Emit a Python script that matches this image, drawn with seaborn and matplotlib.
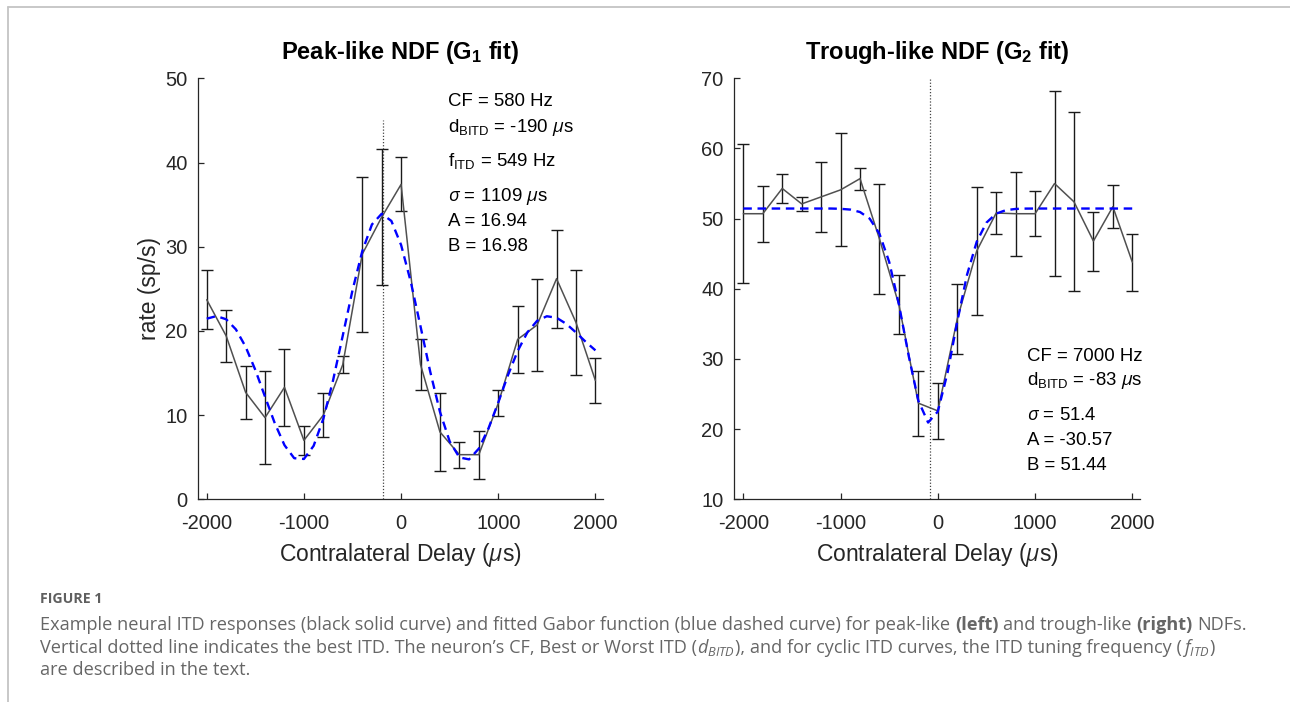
import matplotlib
matplotlib.use("Agg")
import matplotlib.pyplot as plt
import seaborn as sns
import pandas as pd
from matplotlib.lines import Line2D

# ---------------- data ----------------
delays = [-2000, -1800, -1600, -1400, -1200, -1000, -800, -600, -400, -200, 0,
          200, 400, 600, 800, 1000, 1200, 1400, 1600, 1800, 2000]

peak_rate = [23.7, 19.4, 12.7, 9.7, 13.3, 7.0, 10.0, 16.0, 29.1, 33.5, 37.4,
             16.0, 8.0, 5.3, 5.3, 11.4, 19.0, 20.7, 26.2, 21.0, 14.1]
peak_sem = [3.5, 3.1, 3.15, 5.55, 4.55, 1.7, 2.6, 1.05, 9.2, 8.05, 3.2,
            3.05, 4.6, 1.55, 2.85, 1.55, 4.0, 5.5, 5.8, 6.2, 2.7]

trough_rate = [50.7, 50.7, 54.3, 52.1, 53.1, 54.1, 55.7, 47.1, 37.7, 23.7, 22.6,
               35.7, 45.4, 50.8, 50.7, 50.7, 55.0, 52.4, 46.8, 51.7, 43.8]
trough_sem = [9.9, 4.0, 2.1, 1.0, 4.95, 8.05, 1.55, 7.85, 4.2, 4.65, 4.0,
              4.95, 9.1, 2.95, 6.0, 3.2, 13.15, 12.75, 4.2, 3.1, 4.05]

fit_delays = [-2000, -1900, -1800, -1700, -1600, -1500, -1400, -1300, -1200, -1100,
              -1000, -900, -800, -700, -600, -500, -400, -300, -200, -100, 0,
              100, 200, 300, 400, 500, 600, 700, 800, 900, 1000,
              1100, 1200, 1300, 1400, 1500, 1600, 1700, 1800, 1900, 2000]
peak_fit = [21.45, 21.76, 21.38, 20.18, 18.12, 15.36, 12.18, 9.04, 6.43, 4.88,
            4.79, 6.35, 9.57, 14.13, 19.45, 24.82, 29.44, 32.64, 33.91, 33.06, 30.21,
            25.82, 20.54, 15.15, 10.39, 6.88, 4.97, 4.74, 6.02, 8.44, 11.50,
            14.74, 17.62, 19.83, 21.20, 21.74, 21.56, 20.84, 19.81, 18.70, 17.69]
trough_fit = [51.44, 51.44, 51.44, 51.44, 51.44, 51.44, 51.44, 51.44, 51.44, 51.44,
              51.40, 51.29, 50.94, 49.99, 47.84, 43.83, 37.76, 30.47, 24.04, 20.94, 22.51,
              28.05, 35.33, 41.98, 46.71, 49.43, 50.71, 51.21, 51.38, 51.43, 51.44,
              51.44, 51.44, 51.44, 51.44, 51.44, 51.44, 51.44, 51.44, 51.44, 51.44]

peak_best_itd = -190
trough_best_itd = -83
peak_dotted_top = 45
trough_dotted_top = 70

peak_title = r"Peak-like NDF (G$_\mathbf{1}$ fit)"
trough_title = r"Trough-like NDF (G$_\mathbf{2}$ fit)"
peak_params = ["CF = 580 Hz", r"d$_{\mathrm{BITD}}$ = -190 $\mu$s",
               r"f$_{\mathrm{ITD}}$ = 549 Hz", r"$\sigma$ = 1109 $\mu$s",
               "A = 16.94", "B = 16.98"]
trough_params = ["CF = 7000 Hz", r"d$_{\mathrm{BITD}}$ = -83 $\mu$s",
                 r"$\sigma$ = 51.4", "A = -30.57", "B = 51.44"]
xticks = [-2000, -1000, 0, 1000, 2000]
peak_yticks = [0, 10, 20, 30, 40, 50]
trough_yticks = [10, 20, 30, 40, 50, 60, 70]
xlabel = r"Contralateral Delay ($\mu$s)"
ylabel = "rate (sp/s)"

# ---------------- style ----------------
sns.set_theme(style="white")
plt.rcParams["font.family"] = ["Liberation Sans", "DejaVu Sans"]
plt.rcParams["axes.unicode_minus"] = False
plt.rcParams["mathtext.fontset"] = "custom"
plt.rcParams["mathtext.rm"] = "Liberation Sans"
plt.rcParams["mathtext.bf"] = "Liberation Sans:bold"
plt.rcParams["mathtext.it"] = "Open Sans:italic"
plt.rcParams["xtick.direction"] = "in"
plt.rcParams["ytick.direction"] = "in"

W, H = 1290, 702
fig = plt.figure(figsize=(W / 100, H / 100), dpi=100)
fig.patch.set_facecolor("white")

ax_l = fig.add_axes([198 / W, 1 - 499.3 / H, 405 / W, 421 / H])
ax_r = fig.add_axes([734 / W, 1 - 499.3 / H, 406 / W, 421 / H])

axis_col = "#262626"
line_col = "#505050"
err_col = "#1a1a1a"
fit_col = "#0000ff"


def draw_panel(ax, rate, sem, fit, best, dotted_bottom, dotted_top, ylim, yticks, xlim):
    df = pd.DataFrame({"delay": delays, "rate": rate})
    fdf = pd.DataFrame({"delay": fit_delays, "rate": fit})
    ax.plot([best, best], [dotted_bottom, dotted_top], linestyle=(0, (1, 1.5)),
            color="#444444", lw=0.9, zorder=1)
    ax.errorbar(delays, rate, yerr=sem, fmt="none", ecolor=err_col,
                elinewidth=1.0, capsize=4.2, capthick=1.0, zorder=2)
    sns.lineplot(data=df, x="delay", y="rate", ax=ax, color=line_col, lw=1.1,
                 estimator=None, sort=False, zorder=3)
    sns.lineplot(data=fdf, x="delay", y="rate", ax=ax, color=fit_col, lw=1.7,
                 linestyle=(0, (3.6, 2.4)), estimator=None, sort=False, zorder=4)
    ax.set_xlim(*xlim)
    ax.set_ylim(*ylim)
    ax.set_xticks(xticks)
    ax.set_yticks(yticks)
    ax.set_xlabel("")
    ax.set_ylabel("")
    for side in ["top", "right"]:
        ax.spines[side].set_visible(False)
    for side in ["left", "bottom"]:
        ax.spines[side].set_color(axis_col)
        ax.spines[side].set_linewidth(0.9)
    ax.tick_params(axis="both", which="major", length=4, width=0.9, color=axis_col,
                   labelcolor=axis_col, labelsize=14.5, bottom=True, left=True)
    ax.tick_params(axis="x", pad=10.5)
    ax.tick_params(axis="y", pad=7.5)
    ax.set_facecolor("white")


draw_panel(ax_l, peak_rate, peak_sem, peak_fit, peak_best_itd, 0, peak_dotted_top,
           (0, 50), peak_yticks, (-2090, 2078))
draw_panel(ax_r, trough_rate, trough_sem, trough_fit, trough_best_itd, 10, trough_dotted_top,
           (10, 70), trough_yticks, (-2096, 2079))

for ax in (ax_l, ax_r):
    ax.set_xlabel(xlabel, fontsize=16.5, color=axis_col)
    ax.xaxis.set_label_coords(0.5, -0.099)
ax_l.set_ylabel(ylabel, fontsize=16.5, color=axis_col)
ax_l.yaxis.set_label_coords(-0.092, 0.5)

ax_l.text(0.5, 1 + (78.3 - 58.5) / 421, peak_title, transform=ax_l.transAxes,
          ha="center", va="baseline", fontsize=17, fontweight="bold", color="black")
ax_r.text(0.5, 1 + (78.3 - 58.5) / 421, trough_title, transform=ax_r.transAxes,
          ha="center", va="baseline", fontsize=17, fontweight="bold", color="black")

peak_text_x = 481
peak_text_y = [46.75, 43.66, 39.58, 35.46, 32.49, 29.52]
for s, y in zip(peak_params, peak_text_y):
    ax_l.text(peak_text_x, y, s, ha="left", va="baseline", fontsize=13.4, color="black")

trough_text_x = 914
trough_text_y = [29.71, 26.29, 21.30, 17.74, 14.18]
for s, y in zip(trough_params, trough_text_y):
    ax_r.text(trough_text_x, y, s, ha="left", va="baseline", fontsize=13.4, color="black")

# ---------------- frame ----------------
frame_col = "#c4c4c4"
fig.add_artist(Line2D([7.5 / W, 1], [1 - 7 / H, 1 - 7 / H], transform=fig.transFigure,
                      color=frame_col, lw=1.3))
fig.add_artist(Line2D([7.5 / W, 7.5 / W], [0, 1 - 7 / H], transform=fig.transFigure,
                      color=frame_col, lw=1.3))

# ---------------- caption ----------------
renderer = fig.canvas.get_renderer()
cap_font = ["Open Sans", "DejaVu Sans"]
cap_col = "#666666"
cap_size = 13.1
base = dict(family=cap_font, fontsize=cap_size, color=cap_col)
bold = dict(family=cap_font, fontsize=cap_size, color=cap_col, fontweight="bold")


def text_width(s, kw):
    t = fig.text(0, 0, s, **kw)
    w = t.get_window_extent(renderer).width
    t.remove()
    return w


def rich_line(x_px, y_px, segments):
    x = x_px
    for s, kw, space_after in segments:
        t = fig.text(x / W, 1 - y_px / H, s, ha="left", va="baseline", **kw)
        x += t.get_window_extent(renderer).width
        if space_after:
            x += text_width("a a", kw) - text_width("aa", kw)


fig.text(40 / W, 1 - 603.3 / H, "FIGURE 1", ha="left", va="baseline",
         family=cap_font, fontsize=10.2, color="#5f5f5f", fontweight="bold")

rich_line(40, 630.3, [
    ("Example neural ITD responses (black solid curve) and fitted Gabor function "
     "(blue dashed curve) for peak-like", base, True),
    ("(left)", bold, True),
    ("and trough-like", base, True),
    ("(right)", bold, True),
    ("NDFs.", base, False),
])
rich_line(40, 652.8, [
    ("Vertical dotted line indicates the best ITD. The neuron\u2019s CF, Best or Worst ITD (",
     base, False),
    (r"$d_{BITD}$", base, False),
    ("), and for cyclic ITD curves, the ITD tuning frequency (", base, False),
    (r"$f_{ITD}$", base, False),
    (")", base, False),
])
rich_line(40, 675.3, [("are described in the text.", base, False)])

fig.savefig("out.png", dpi=100, facecolor="white")
